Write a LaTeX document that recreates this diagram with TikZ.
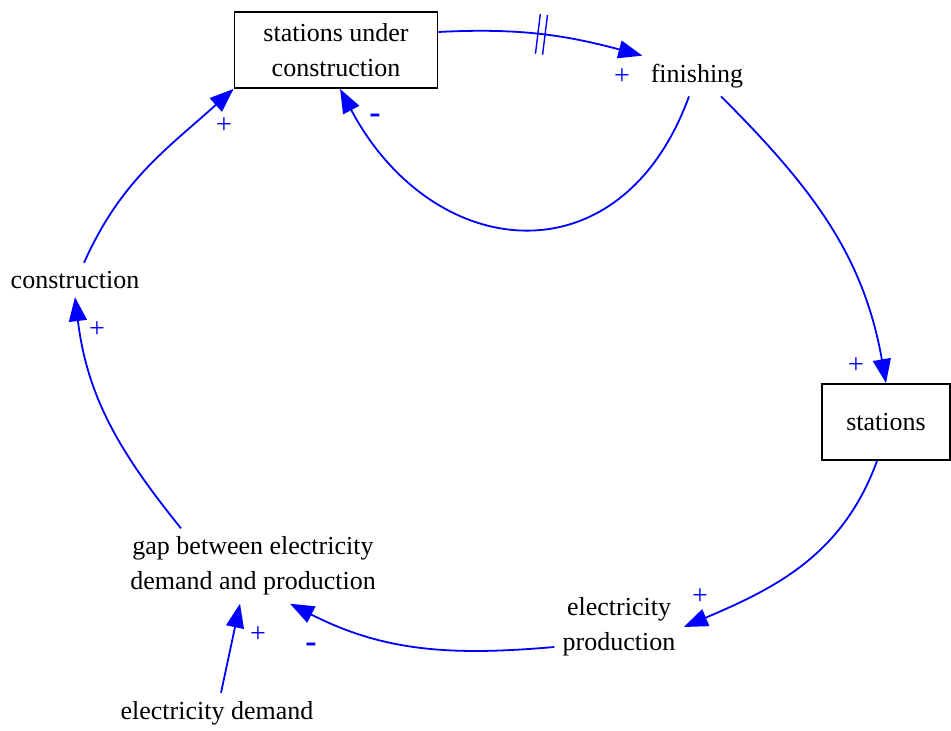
\documentclass[tikz,border=0pt]{standalone}
\usepackage{fontspec}
\setmainfont{Liberation Serif}
\usetikzlibrary{arrows.meta,decorations.markings}
\definecolor{linkblue}{HTML}{0000FF}
\tikzset{
  var/.style={align=center, inner sep=4pt},
  stock/.style={draw=black, line width=0.9pt, align=center, inner sep=4pt},
  link/.style={-{Triangle[length=12pt, width=9pt]}, draw=linkblue, line width=0.9pt},
  delay/.style={postaction={decorate}, decoration={markings, mark=at position 0.5 with {\draw[-, linkblue, line width=0.7pt] (-1.8pt,-10pt) -- (-1.8pt,10pt) (1.8pt,-10pt) -- (1.8pt,10pt);}}},
  plus/.style={text=linkblue, inner sep=0pt, font=\fontsize{14}{14}\selectfont},
  minus/.style={text=linkblue, inner sep=0pt, font=\bfseries\fontsize{17}{17}\selectfont}
}
\begin{document}
\begin{tikzpicture}[x=0.5pt, y=0.5pt, font=\fontsize{13}{17.5}\selectfont]
  \useasboundingbox (0,0) rectangle (951,-731);
  % stocks and variables
  \node[stock, minimum width=101.5pt, minimum height=38pt] (suc) at (336,-50) {stations under\\construction};
  \node[var] (fin) at (697,-76) {finishing};
  \node[stock, minimum width=64pt, minimum height=38pt] (sta) at (886,-422) {stations};
  \node[var] (prod) at (619,-627) {electricity\\production};
  \node[var] (gap) at (253,-566) {gap between electricity\\demand and production};
  \node[var] (cons) at (75,-280) {construction};
  \node[var] (dem) at (217,-713) {electricity demand};

  % links
  \draw[link, delay] ([yshift=9pt]suc.east) to[out=3, in=165] (fin.north west);
  \draw[link] ([xshift=-4pt]fin.south) to[out=-110, in=-62, looseness=1.45] ([xshift=2pt]suc.south);
  \draw[link] ([xshift=12pt]fin.south) to[out=-45, in=100] (sta.north);
  \draw[link] ([xshift=-4.5pt]sta.south) to[out=-110, in=23] (prod.east);
  \draw[link] ([yshift=-10pt]prod.west) to[out=185, in=-27] ([xshift=18.5pt]gap.south);
  \draw[link] ([xshift=2pt]dem.north) -- ([xshift=-6.5pt]gap.south);
  \draw[link] ([xshift=-36pt]gap.north) to[out=129, in=-83] (cons.south);
  \draw[link] ([xshift=4.5pt]cons.north) to[out=66, in=222] (suc.south west);

  % polarities
  \node[plus] (p1) at (622,-77) {+};
  \node[plus] (p2) at (224,-126) {+};
  \node[plus] (p3) at (97,-330) {+};
  \node[plus] (p4) at (856,-366) {+};
  \node[plus] (p5) at (700,-597) {+};
  \node[plus] (p6) at (258,-635) {+};
  \node[minus] (m1) at (375,-119) {-};
  \node[minus] (m2) at (311,-648) {-};
\end{tikzpicture}
\end{document}
